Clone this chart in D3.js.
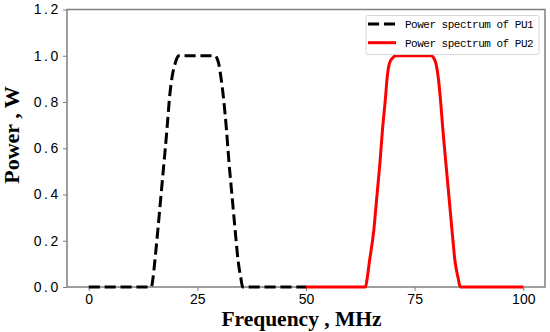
<!DOCTYPE html>
<html><head><meta charset="utf-8">
<script src="https://cdn.jsdelivr.net/npm/d3@7"></script>
<style>body{margin:0;background:#fff}svg{display:block}</style>
</head><body>
<svg id="c" width="550" height="332"></svg>
<script>
const freq1 = [0, 14.4, 14.8, 15.2, 15.9, 16.6, 17.3, 18.0, 18.6, 19.2, 19.9, 20.3, 20.7, 29.1, 29.5, 29.9, 30.4, 31.0, 31.7, 32.3, 33.0, 33.7, 34.4, 35.0, 35.4, 50];
const power1 = [0, 0, 0.04, 0.11, 0.245, 0.39, 0.534, 0.68, 0.82, 0.91, 0.967, 0.99, 1, 1, 0.99, 0.967, 0.91, 0.82, 0.68, 0.534, 0.39, 0.245, 0.11, 0.04, 0, 0];
const freq2 = [50, 63.7, 64.1, 64.6, 65.6, 66.3, 67.0, 67.6, 68.3, 68.7, 69.2, 69.9, 70.6, 78.8, 79.4, 79.9, 80.4, 80.9, 81.5, 82.2, 82.9, 83.6, 84.3, 85.0, 85.5, 100];
const power2 = [0, 0, 0.04, 0.11, 0.245, 0.39, 0.534, 0.68, 0.82, 0.91, 0.967, 0.99, 1, 1, 0.99, 0.967, 0.91, 0.82, 0.68, 0.534, 0.39, 0.245, 0.11, 0.04, 0, 0];
const xTicks = [0, 25, 50, 75, 100];
const yTicks = [0, 0.2, 0.4, 0.6, 0.8, 1.0, 1.2];
const seriesNames = ["Power spectrum of PU1", "Power spectrum of PU2"];

const svg = d3.select("#c");
const L = 67, R = 545, T = 9.5, B = 287;
const x = d3.scaleLinear().domain([-5, 105]).range([L, R]);
const y = d3.scaleLinear().domain([0, 1.2]).range([B, T]);

// frame
svg.append("rect").attr("x", L).attr("y", T).attr("width", R - L).attr("height", B - T)
  .attr("fill", "none").attr("stroke", "#7f7f7f").attr("stroke-width", 1.5);

const xa = svg.append("g").attr("transform", `translate(0,${B})`)
  .call(d3.axisBottom(x).tickValues(xTicks).tickSize(4).tickPadding(3).tickFormat(d3.format("d")));
const ya = svg.append("g").attr("transform", `translate(${L},0)`)
  .call(d3.axisLeft(y).tickValues(yTicks).tickSize(4).tickPadding(4).tickFormat(d3.format(".1f")));
[xa, ya].forEach(a => {
  a.select(".domain").remove();
  a.selectAll("line").attr("stroke", "#7f7f7f").attr("stroke-width", 1);
  a.selectAll("text").attr("font-family", "Liberation Sans, Arial, sans-serif").attr("font-size", 14).attr("fill", "#000");
});
ya.selectAll("text").attr("letter-spacing", 2.6).attr("dx", 2);

const line = d3.line().x(d => x(d[0])).y(d => y(d[1])).curve(d3.curveMonotoneX);
const d1 = freq1.map((f, i) => [f, power1[i]]);
const d2 = freq2.map((f, i) => [f, power2[i]]);
svg.append("path").attr("d", line(d1)).attr("fill", "none").attr("stroke", "#000")
  .attr("stroke-width", 3).attr("stroke-dasharray", "11.1,4.8");
svg.append("path").attr("d", line(d2)).attr("fill", "none").attr("stroke", "#ff0000")
  .attr("stroke-width", 3);

// legend
const lg = svg.append("g");
lg.append("rect").attr("x", 366).attr("y", 15.5).attr("width", 173).attr("height", 39).attr("rx", 2)
  .attr("fill", "#fff").attr("fill-opacity", 0.8).attr("stroke", "#d9d9d9").attr("stroke-width", 1);
const styles = [{c: "#000", dash: "11.1,4.8"}, {c: "#ff0000", dash: null}];
seriesNames.forEach((n, i) => {
  const yy = 24 + i * 18.7;
  lg.append("line").attr("x1", 368).attr("x2", 396).attr("y1", yy).attr("y2", yy)
    .attr("stroke", styles[i].c).attr("stroke-width", 3).attr("stroke-dasharray", styles[i].dash);
  lg.append("text").attr("x", 405).attr("y", yy + 4).text(n)
    .attr("font-family", "Liberation Mono, DejaVu Sans Mono, monospace").attr("font-size", 11)
    .attr("letter-spacing", -0.5).attr("fill", "#000");
});

// axis labels
svg.append("text").attr("x", 301.5).attr("y", 326).attr("text-anchor", "middle")
  .attr("font-family", "Liberation Serif, Times New Roman, serif").attr("font-weight", "bold")
  .attr("font-size", 21.5).text("Frequency , MHz");
svg.append("text").attr("transform", "translate(19,135) rotate(-90)").attr("text-anchor", "middle")
  .attr("font-family", "Liberation Serif, Times New Roman, serif").attr("font-weight", "bold")
  .attr("font-size", 22).text("Power , W");
</script>
</body></html>
